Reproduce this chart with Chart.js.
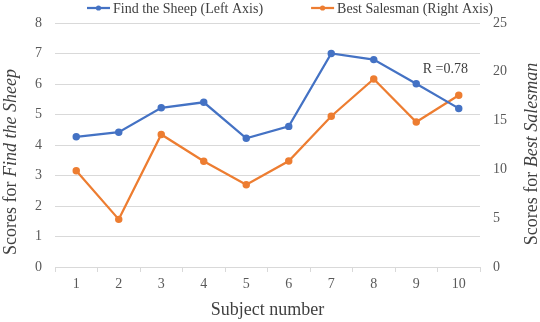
<!DOCTYPE html>
<html>
<head>
<meta charset="utf-8">
<script src="https://cdn.jsdelivr.net/npm/chart.js@4.4.0/dist/chart.umd.min.js"></script>
<style>
  html, body { margin: 0; padding: 0; background: #fff; }
  #wrap { width: 540px; height: 322px; position: relative; }
</style>
</head>
<body>
<div id="wrap"><canvas id="chart"></canvas></div>
<script>
// data
const subjects = ["1", "2", "3", "4", "5", "6", "7", "8", "9", "10"];
const findSheep = [4.27, 4.42, 5.22, 5.4, 4.22, 4.61, 7.0, 6.8, 6.01, 5.2];
const bestSalesman = [9.87, 4.88, 13.58, 10.84, 8.42, 10.86, 15.45, 19.26, 14.85, 17.6];
const seriesNames = ["Find the Sheep (Left Axis)", "Best Salesman (Right Axis)"];
const leftTitle = ["Scores for ", "Find the Sheep"];
const rightTitle = ["Scores for ", "Best Salesman"];
const xTitle = "Subject number";
const note = "R =0.78";

const SERIF = '"Liberation Serif", "Times New Roman", serif';
const BLUE = "#4472C4";
const ORANGE = "#ED7D31";
const GRID = "#d9d9d9";
const TXT = "#404040";

// draws the legend, the mixed-style y titles and the R note
const extras = {
  id: "extras",
  afterDraw(chart) {
    const ctx = chart.ctx;
    const area = chart.chartArea;
    ctx.save();

    // legend
    ctx.font = "14px " + SERIF;
    ctx.textBaseline = "middle";
    ctx.textAlign = "left";
    let x = 87;
    const ly = 8;
    chart.data.datasets.forEach(ds => {
      ctx.strokeStyle = ds.borderColor;
      ctx.lineWidth = 2.25;
      ctx.beginPath();
      ctx.moveTo(x, ly);
      ctx.lineTo(x + 23, ly);
      ctx.stroke();
      ctx.fillStyle = ds.borderColor;
      ctx.beginPath();
      ctx.arc(x + 11.5, ly, 2.6, 0, Math.PI * 2);
      ctx.fill();
      ctx.fillStyle = TXT;
      ctx.fillText(ds.label, x + 26, ly + 1);
      x += 26 + ctx.measureText(ds.label).width + 48;
    });

    // rotated titles with italic part
    const drawTitle = (parts, cx, cy) => {
      ctx.save();
      ctx.translate(cx, cy);
      ctx.rotate(-Math.PI / 2);
      ctx.fillStyle = TXT;
      ctx.textBaseline = "middle";
      ctx.textAlign = "left";
      const f0 = "18px " + SERIF, f1 = "italic 18px " + SERIF;
      ctx.font = f0;
      const w0 = ctx.measureText(parts[0]).width;
      ctx.font = f1;
      const w1 = ctx.measureText(parts[1]).width;
      let px = -(w0 + w1) / 2;
      ctx.font = f0;
      ctx.fillText(parts[0], px, 0);
      ctx.font = f1;
      ctx.fillText(parts[1], px + w0, 0);
      ctx.restore();
    };
    drawTitle(leftTitle, 11, 162);
    drawTitle(rightTitle, 532, 154);

    // correlation note
    ctx.font = "14px " + SERIF;
    ctx.fillStyle = TXT;
    ctx.textAlign = "right";
    ctx.textBaseline = "middle";
    ctx.fillText(note, area.right - 12, 69);

    ctx.restore();
  }
};

new Chart(document.getElementById("chart"), {
  type: "line",
  data: {
    labels: subjects,
    datasets: [
      {
        label: seriesNames[0],
        data: findSheep,
        yAxisID: "y",
        borderColor: BLUE,
        backgroundColor: BLUE,
        borderWidth: 2.25,
        pointRadius: 2.6,
        pointHoverRadius: 2.6,
        tension: 0
      },
      {
        label: seriesNames[1],
        data: bestSalesman,
        yAxisID: "y1",
        borderColor: ORANGE,
        backgroundColor: ORANGE,
        borderWidth: 2.25,
        pointRadius: 2.6,
        pointHoverRadius: 2.6,
        tension: 0
      }
    ]
  },
  options: {
    responsive: true,
    maintainAspectRatio: false,
    animation: false,
    layout: { padding: { top: 23, left: 0, right: 0, bottom: 0 } },
    plugins: {
      legend: { display: false },
      tooltip: { enabled: false }
    },
    scales: {
      x: {
        offset: true,
        grid: { display: true, drawOnChartArea: false, offset: true, tickLength: 5, color: GRID },
        border: { display: true, color: GRID, width: 1 },
        ticks: { color: "#595959", font: { family: SERIF, size: 14 }, padding: 4, maxRotation: 0 },
        title: { display: true, text: xTitle, color: TXT, font: { family: SERIF, size: 18 }, padding: { top: 4, bottom: 1 } },
        afterFit: s => { s.height = 55; }
      },
      y: {
        position: "left",
        min: 0, max: 8,
        ticks: { stepSize: 1, color: "#595959", font: { family: SERIF, size: 14 }, padding: 13 },
        grid: { color: GRID, drawTicks: false },
        border: { display: false },
        afterFit: s => { s.width = 55; }
      },
      y1: {
        position: "right",
        min: 0, max: 25,
        ticks: { stepSize: 5, color: "#595959", font: { family: SERIF, size: 14 }, padding: 13 },
        grid: { drawOnChartArea: false, drawTicks: false },
        border: { display: false },
        afterFit: s => { s.width = 60; }
      }
    }
  },
  plugins: [extras]
});
</script>
</body>
</html>
